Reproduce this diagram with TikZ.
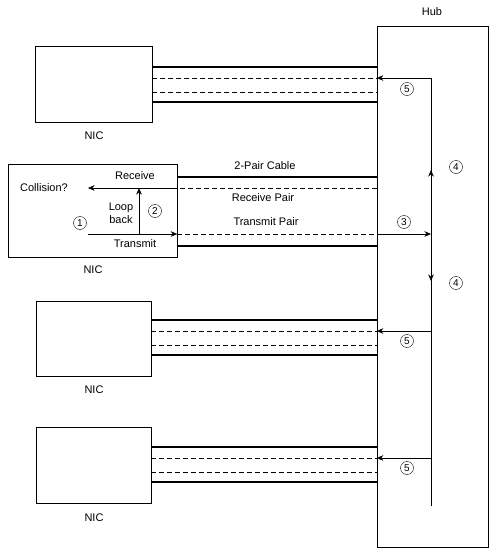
\documentclass[tikz,border=0pt]{standalone}
\usepackage{fontspec}
\setmainfont{Liberation Sans}
\usetikzlibrary{arrows.meta}

\begin{document}
\begin{tikzpicture}[
        x=1pt, y=-1pt,
        every node/.style={font=\fontsize{11}{13}\selectfont},
        nicbox/.style={draw, rectangle, inner sep=0pt},
        num/.style={circle, draw, inner sep=0pt, minimum size=13pt, font=\fontsize{10}{10}\selectfont},
        pair/.style={line width=1.8pt},
        wire/.style={dash pattern=on 5pt off 3pt},
        sig/.style={-{Stealth[length=6.5pt,width=5.5pt]}}
    ]
    \useasboundingbox (0,0) rectangle (496,557);

    % Hub
    \node[nicbox, minimum width=111pt, minimum height=521pt] (hub) at (432.5,286.5) {};
    \node (hublbl) at (432,12) {Hub};

    % NIC boxes
    \node[nicbox, minimum width=117pt, minimum height=76pt] (nicA) at (93.5,84) {};
    \node[nicbox, minimum width=169pt, minimum height=93pt] (nicB) at (92.5,210.5) {};
    \node[nicbox, minimum width=115pt, minimum height=75pt] (nicC) at (93.5,338.5) {};
    \node[nicbox, minimum width=115pt, minimum height=76pt] (nicD) at (93.5,465) {};
    \node (lblA) at (94,136) {NIC};
    \node (lblB) at (93,270) {NIC};
    \node (lblC) at (94,390) {NIC};
    \node (lblD) at (94,518) {NIC};

    % Bus inside the hub
    \coordinate (busT) at (431,78);
    \coordinate (busB) at (431,506);
    \coordinate (busM) at (431,234);
    \draw (busT) -- (busB);
    \draw[sig] (busM) -- (431,170);
    \draw[sig] (busM) -- (431,281);

    % Cables of the other NICs (repeated to the hub)
    \foreach \n/\y/\c in {nicA/67/89, nicC/320/341, nicD/447/468} {
        \draw[pair] (\n.east |- 0,\y) -- (hub.west |- 0,\y);
        \draw[wire] (\n.east |- 0,\y+11) -- (hub.west |- 0,\y+11);
        \draw[wire] (\n.east |- 0,\y+25) -- (hub.west |- 0,\y+25);
        \draw[pair] (\n.east |- 0,\y+35) -- (hub.west |- 0,\y+35);
        \draw[sig] (busT |- 0,\y+11) -- (hub.west |- 0,\y+11);
        \node[num] at (407,\c) {5};
    }

    % Transmitting NIC and its 2-pair cable
    \draw[pair] (nicB.east |- 0,177) -- (hub.west |- 0,177);
    \draw[pair] (nicB.east |- 0,246) -- (hub.west |- 0,246);
    \draw[wire] (hub.west |- 0,188) -- (nicB.east |- 0,188);
    \draw[wire] (nicB.east |- 0,234) -- (hub.west |- 0,234);
    \node (cable) at (265,166) {2-Pair Cable};
    \node (rxpair) at (263,198) {Receive Pair};
    \node (txpair) at (266,222) {Transmit Pair};

    \node (coll) at (44,188) {Collision?};
    \node (rx) at (135,176) {Receive};
    \node (tx) at (135,244) {Transmit};
    \node[align=center] (loop) at (121,213.5) {Loop\\back};
    \coordinate (collend) at (88,188);
    \coordinate (txstart) at (88,234);
    \draw[sig] (nicB.east |- 0,188) -- (collend);
    \draw[sig] (txstart) -- (nicB.east |- 0,234);
    \draw[sig] (139,234) -- (139,188);
    \draw[sig] (hub.west |- 0,234) -- (busM);

    % Step numbers
    \node[num] (n1) at (80,223) {1};
    \node[num] (n2) at (155,211) {2};
    \node[num] (n3) at (404,222) {3};
    \node[num] (n4a) at (456,167) {4};
    \node[num] (n4b) at (456,283) {4};

\end{tikzpicture}
\end{document}
